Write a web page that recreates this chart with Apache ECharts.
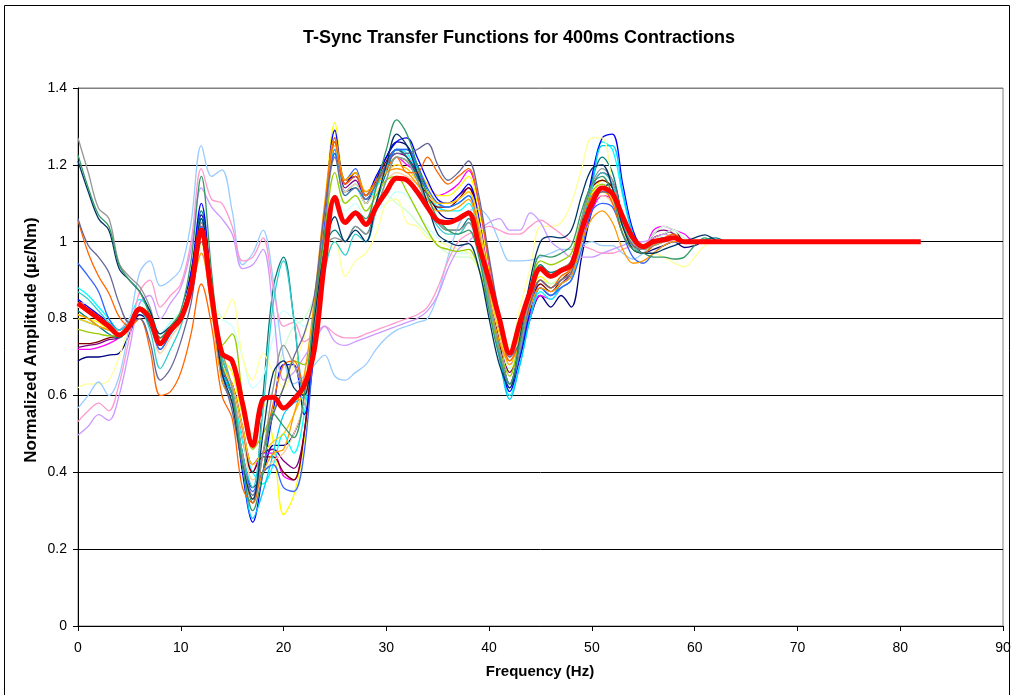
<!DOCTYPE html>
<html><head><meta charset="utf-8">
<script src="https://cdn.jsdelivr.net/npm/echarts@6/dist/echarts.min.js"></script>
<style>html,body{margin:0;padding:0;background:#fff}#c{width:1014px;height:695px}</style>
</head><body><div id="c"></div>
<script>
const titleText = 'T-Sync Transfer Functions for 400ms Contractions';
const xName = 'Frequency (Hz)';
const yName = 'Normalized Amplitude (\u00b5\u03b5/Nm)';
const xTicks = [0,10,20,30,40,50,60,70,80,90];
const yTicks = [0,0.2,0.4,0.6,0.8,1,1.2,1.4];

const freq = [0,1,2,3,4,5,6,7,8,9,10,11,12,13,14,15,16,17,18,19,20,21,22,23,24,25,26,27,28,29,30,31,32,33,34,35,36,37,38,39,40,41,42,43,44,45,46,47,48,49,50,51,52,53,54,55,56,57,58,59,60,61,62,63];
const freqAvg = [0,1,2,3,4,5,6,7,8,9,10,11,12,13,14,15,16,17,18,19,20,21,22,23,24,25,26,27,28,29,30,31,32,33,34,35,36,37,38,39,40,41,42,43,44,45,46,47,48,49,50,51,52,53,54,55,56,57,58,59,60,61,62,63,64,65,66,67,68,69,70,71,72,73,74,75,76,77,78,79,80,81,82];

const s01 = [0.69,0.70,0.70,0.705,0.71,0.76,0.81,0.79,0.75,0.78, 0.82,0.92,1.07,0.88,0.66,0.60,0.45,0.36,0.40,0.47, 0.47,0.50,0.58,0.80,1.05,1.23,1.13,1.14,1.10,1.16, 1.22,1.26,1.25,1.20,1.13,1.08,1.06,1.06,1.08,1.00, 0.85,0.72,0.63,0.70,0.80,0.86,0.83,0.86,0.83,0.96, 1.08,1.14,1.15,1.06,1.00,0.97,0.98,0.99,1.00,0.985, 0.99,1.00,1.00,1.00];
const s02 = [0.72,0.72,0.725,0.735,0.75,0.78,0.83,0.80,0.74,0.77, 0.80,0.88,1.02,0.84,0.66,0.62,0.50,0.40,0.45,0.45, 0.39,0.38,0.50,0.75,1.02,1.24,1.15,1.17,1.12,1.15, 1.19,1.22,1.20,1.18,1.15,1.12,1.13,1.15,1.185,1.10, 0.93,0.78,0.68,0.72,0.81,0.86,0.85,0.88,0.90,1.00, 1.08,1.12,1.11,1.05,1.01,0.98,1.03,1.04,1.03,1.02, 1.00,1.00,1.00,1.00];
const s03 = [0.81,0.80,0.79,0.77,0.76,0.79,0.83,0.81,0.75,0.78, 0.81,0.89,1.00,0.85,0.70,0.66,0.55,0.50,0.58,0.48, 0.29,0.34,0.48,0.78,1.08,1.31,1.16,1.18,1.13,1.16, 1.19,1.22,1.21,1.19,1.15,1.12,1.12,1.14,1.17,1.08, 0.92,0.78,0.66,0.75,0.86,0.91,0.89,0.91,0.93,1.03, 1.12,1.16,1.14,1.06,1.00,0.98,1.00,1.02,1.01,1.00, 1.00,1.00,1.00,1.00];
const s04 = [0.88,0.86,0.83,0.80,0.77,0.80,0.85,0.82,0.76,0.79, 0.82,0.90,1.06,0.86,0.66,0.62,0.48,0.40,0.37,0.42, 0.50,0.45,0.55,0.78,1.05,1.22,1.12,1.14,1.10,1.14, 1.19,1.24,1.23,1.18,1.12,1.09,1.08,1.08,1.10,1.02, 0.85,0.70,0.60,0.68,0.80,0.87,0.85,0.88,0.90,1.00, 1.15,1.26,1.24,1.12,1.02,0.99,1.00,1.01,1.02,1.00, 1.00,1.00,1.00,1.00];
const s05 = [0.725,0.73,0.735,0.745,0.75,0.78,0.83,0.80,0.73,0.77, 0.80,0.88,1.05,0.86,0.66,0.63,0.52,0.42,0.45,0.46, 0.43,0.41,0.50,0.76,1.03,1.26,1.14,1.16,1.11,1.15, 1.20,1.23,1.22,1.18,1.13,1.10,1.10,1.12,1.14,1.06, 0.90,0.77,0.66,0.72,0.83,0.88,0.86,0.89,0.92,1.04, 1.14,1.18,1.16,1.06,1.00,0.98,1.02,1.03,1.02,1.00, 1.00,1.00,1.00,1.00];
const s06 = [0.735,0.735,0.74,0.75,0.755,0.78,0.82,0.81,0.75,0.78, 0.81,0.89,1.04,0.85,0.67,0.63,0.50,0.40,0.44,0.44, 0.40,0.38,0.50,0.78,1.05,1.27,1.15,1.18,1.12,1.16, 1.21,1.24,1.22,1.17,1.12,1.09,1.09,1.11,1.14,1.05, 0.88,0.74,0.63,0.72,0.83,0.89,0.87,0.90,0.93,1.05, 1.14,1.16,1.14,1.05,0.99,0.98,1.01,1.02,1.03,1.00, 1.00,1.00,1.00,1.00];
const s07 = [0.82,0.80,0.78,0.76,0.75,0.78,0.82,0.78,0.72,0.76, 0.80,0.90,1.08,0.88,0.70,0.62,0.42,0.32,0.60,0.88, 0.96,0.80,0.60,0.75,0.98,1.03,1.00,1.04,1.02,1.10, 1.18,1.24,1.22,1.17,1.10,1.05,1.03,1.03,1.06,0.98, 0.84,0.72,0.63,0.72,0.86,0.94,0.92,0.93,0.95,1.06, 1.16,1.22,1.18,1.06,0.99,0.97,0.99,1.00,1.01,1.00, 1.00,1.005,1.01,1.00];
const s08 = [0.85,0.83,0.81,0.79,0.77,0.80,0.83,0.80,0.75,0.78, 0.81,0.92,1.10,0.88,0.68,0.60,0.40,0.27,0.40,0.56, 0.68,0.68,0.55,0.72,1.05,1.29,1.16,1.17,1.12,1.17, 1.22,1.26,1.27,1.22,1.16,1.11,1.10,1.12,1.15,1.06, 0.88,0.72,0.61,0.70,0.82,0.90,0.88,0.90,0.92,1.02, 1.17,1.27,1.28,1.15,1.03,0.99,1.00,1.01,1.01,1.00, 1.00,1.00,1.00,1.00];
const s09 = [0.80,0.79,0.78,0.77,0.76,0.79,0.83,0.80,0.75,0.78, 0.81,0.90,1.06,0.86,0.66,0.60,0.42,0.28,0.35,0.45, 0.55,0.58,0.60,0.80,1.05,1.24,1.13,1.15,1.11,1.15, 1.20,1.24,1.24,1.19,1.13,1.10,1.09,1.10,1.12,1.03, 0.86,0.70,0.59,0.68,0.80,0.88,0.86,0.89,0.91,1.01, 1.14,1.25,1.25,1.13,1.02,0.98,0.99,1.00,1.01,1.00, 1.00,1.00,1.00,1.00];
const s10 = [0.84,0.84,0.82,0.79,0.77,0.80,0.84,0.81,0.76,0.79, 0.82,0.90,1.02,0.88,0.80,0.78,0.70,0.62,0.65,0.75, 0.82,0.80,0.78,0.85,1.00,1.10,1.08,1.10,1.06,1.08, 1.10,1.13,1.12,1.08,1.04,1.01,0.99,0.97,0.97,0.93, 0.86,0.76,0.67,0.74,0.84,0.90,0.89,0.91,0.93,1.02, 1.10,1.13,1.12,1.05,1.00,0.98,1.00,1.02,1.03,1.01, 1.00,1.00,1.00,1.00];
const s11 = [0.83,0.82,0.80,0.78,0.76,0.79,0.83,0.80,0.75,0.78, 0.81,0.89,1.03,0.86,0.72,0.68,0.58,0.50,0.55,0.62, 0.72,0.78,0.80,0.86,1.00,1.12,1.10,1.12,1.08,1.10, 1.12,1.10,1.08,1.05,1.02,0.99,0.97,0.96,0.96,0.93, 0.86,0.76,0.67,0.74,0.84,0.90,0.89,0.91,0.93,1.02, 1.10,1.13,1.11,1.04,1.00,0.99,1.02,1.04,1.03,1.01, 1.00,1.00,1.00,1.00];
const s12 = [0.62,0.63,0.63,0.64,0.70,0.78,0.82,0.80,0.74,0.78, 0.82,0.88,0.99,0.86,0.80,0.85,0.70,0.64,0.71,0.66, 0.62,0.68,0.75,0.85,0.95,1.00,0.91,0.95,0.97,1.02, 1.10,1.11,1.05,1.04,1.01,1.00,0.99,0.98,0.97,0.93, 0.86,0.78,0.73,0.83,0.93,1.04,1.04,1.05,1.10,1.19, 1.27,1.27,1.15,1.03,0.98,0.97,0.97,0.96,0.945,0.935, 0.96,0.99,1.00,1.00];
const s13 = [0.567,0.60,0.635,0.60,0.65,0.78,0.92,0.95,0.885,0.90, 0.93,1.05,1.25,1.17,1.187,1.08,0.94,0.97,1.03,0.90, 0.70,0.63,0.65,0.68,0.705,0.65,0.64,0.66,0.68,0.72, 0.75,0.77,0.78,0.79,0.80,0.86,0.96,1.04,1.08,1.085, 1.06,1.00,0.95,0.95,0.952,0.96,0.97,0.98,0.98,0.99, 1.00,0.99,0.99,0.97,0.955,0.97,1.00,1.00,1.00,1.00, 1.00,1.00,1.00,1.00];
const s14 = [0.532,0.56,0.58,0.56,0.63,0.75,0.87,0.90,0.83,0.86, 0.89,1.00,1.19,1.11,1.10,1.04,0.95,0.96,1.01,0.88, 0.78,0.79,0.74,0.76,0.78,0.76,0.75,0.75,0.76,0.77, 0.78,0.79,0.80,0.81,0.83,0.88,0.95,1.00,1.02,1.03, 1.04,1.03,1.02,1.02,1.04,1.056,1.04,1.02,1.00,0.99, 0.98,0.97,0.97,0.98,0.99,1.00,1.00,1.00,1.00,1.00, 1.00,1.00,1.00,1.00];
const s15 = [0.497,0.52,0.55,0.535,0.60,0.72,0.84,0.86,0.80,0.84, 0.88,0.98,1.14,1.09,1.06,1.02,0.93,0.94,0.98,0.82, 0.64,0.66,0.70,0.74,0.78,0.74,0.73,0.74,0.75,0.76, 0.77,0.78,0.79,0.80,0.82,0.86,0.93,0.98,1.00,1.03, 1.05,1.06,1.03,1.03,1.075,1.05,1.00,0.98,0.96,0.96, 0.96,0.97,0.98,0.99,1.00,1.00,1.01,1.02,1.01,1.00, 1.00,1.00,1.00,1.00];
const s16 = [0.83,0.82,0.80,0.78,0.77,0.79,0.82,0.79,0.71,0.75, 0.79,0.87,1.00,0.84,0.68,0.62,0.50,0.38,0.40,0.43, 0.45,0.50,0.58,0.80,1.05,1.22,1.13,1.15,1.10,1.13, 1.16,1.18,1.17,1.15,1.12,1.10,1.10,1.11,1.13,1.05, 0.90,0.78,0.70,0.76,0.85,0.90,0.88,0.90,0.92,1.02, 1.10,1.12,1.10,1.04,0.99,0.97,0.99,1.00,1.01,1.00, 1.00,1.00,1.00,1.00];
const s17 = [0.944,0.91,0.87,0.80,0.77,0.79,0.82,0.79,0.72,0.76, 0.80,0.88,1.04,0.85,0.64,0.58,0.45,0.35,0.40,0.42, 0.36,0.35,0.45,0.75,1.05,1.23,1.16,1.19,1.12,1.15, 1.20,1.24,1.24,1.20,1.14,1.10,1.09,1.10,1.12,1.03, 0.86,0.72,0.62,0.71,0.83,0.88,0.86,0.88,0.90,0.98, 1.08,1.10,1.09,1.02,0.96,0.944,0.97,0.99,1.00,1.00, 1.00,1.00,1.00,1.00];
const s18 = [0.87,0.85,0.82,0.79,0.77,0.79,0.82,0.77,0.67,0.72, 0.78,0.88,1.06,0.87,0.70,0.62,0.45,0.36,0.56,0.84, 0.95,0.80,0.62,0.72,0.92,1.00,0.965,1.02,1.00,1.08, 1.16,1.22,1.21,1.16,1.09,1.04,1.02,1.02,1.05,0.97, 0.84,0.72,0.63,0.72,0.85,0.93,0.91,0.92,0.94,1.04, 1.14,1.18,1.15,1.05,0.99,0.97,0.99,1.00,1.01,1.00, 1.00,1.00,1.00,1.00];
const s19 = [0.772,0.765,0.76,0.755,0.755,0.78,0.82,0.80,0.74,0.77, 0.80,0.88,1.02,0.86,0.73,0.76,0.60,0.46,0.50,0.56, 0.62,0.69,0.68,0.80,1.02,1.18,1.10,1.12,1.08,1.12, 1.16,1.17,1.13,1.08,1.03,0.99,0.98,0.975,0.98,0.93, 0.82,0.72,0.65,0.76,0.88,0.95,0.94,0.95,0.97,1.06, 1.13,1.15,1.12,1.04,0.99,0.98,0.99,1.00,1.01,1.00, 1.00,1.00,1.00,1.00];
const s20 = [0.80,0.79,0.78,0.77,0.76,0.79,0.83,0.81,0.75,0.78, 0.81,0.89,1.00,0.84,0.68,0.63,0.52,0.42,0.45,0.48, 0.50,0.55,0.62,0.82,1.08,1.25,1.16,1.18,1.12,1.15, 1.18,1.20,1.19,1.16,1.13,1.10,1.10,1.11,1.13,1.04, 0.88,0.76,0.68,0.75,0.85,0.90,0.88,0.90,0.92,1.02, 1.10,1.13,1.11,1.04,0.99,0.98,0.99,1.00,1.01,1.00, 1.00,1.00,1.00,1.00];
const s21 = [0.81,0.80,0.78,0.77,0.76,0.79,0.83,0.80,0.74,0.77, 0.80,0.87,0.97,0.82,0.64,0.58,0.42,0.33,0.40,0.45, 0.46,0.55,0.65,0.85,1.10,1.27,1.16,1.18,1.13,1.15, 1.18,1.19,1.18,1.15,1.11,1.08,1.08,1.09,1.11,1.02, 0.86,0.74,0.69,0.74,0.83,0.88,0.87,0.89,0.91,1.00, 1.06,1.08,1.05,0.98,0.944,0.95,0.97,0.99,1.00,1.00, 1.00,1.00,1.00,1.00];
const s22 = [1.056,0.97,0.91,0.866,0.805,0.78,0.80,0.72,0.60,0.61, 0.66,0.76,0.89,0.78,0.60,0.54,0.36,0.32,0.45,0.58, 0.68,0.69,0.62,0.82,1.08,1.26,1.15,1.17,1.12,1.16, 1.19,1.22,1.18,1.18,1.22,1.18,1.15,1.17,1.19,1.10, 0.95,0.80,0.69,0.74,0.84,0.90,0.88,0.91,0.93,1.03, 1.12,1.14,1.10,1.02,0.98,0.97,0.99,1.01,1.02,1.00, 1.00,1.00,1.00,1.00];
const s23 = [1.06,0.99,0.96,0.92,0.84,0.79,0.80,0.74,0.64,0.67, 0.74,0.84,1.00,0.84,0.66,0.56,0.42,0.34,0.45,0.55, 0.62,0.70,0.76,0.86,1.08,1.22,1.12,1.14,1.11,1.15, 1.20,1.23,1.23,1.24,1.256,1.20,1.16,1.18,1.21,1.12, 0.96,0.81,0.70,0.74,0.84,0.90,0.88,0.90,0.92,1.02, 1.10,1.13,1.12,1.04,0.99,0.98,1.00,1.01,1.01,1.00, 1.00,1.00,1.00,1.00];
const s24 = [1.27,1.18,1.087,1.061,0.944,0.909,0.883,0.83,0.75,0.77, 0.80,0.88,1.05,0.88,0.72,0.62,0.44,0.33,0.45,0.62, 0.73,0.68,0.62,0.78,0.98,1.01,1.00,1.04,1.02,1.08, 1.16,1.22,1.21,1.16,1.10,1.05,1.03,1.03,1.05,0.98, 0.85,0.72,0.63,0.72,0.86,0.93,0.91,0.93,0.95,1.06, 1.15,1.19,1.16,1.06,1.00,0.98,0.99,1.00,1.01,1.00, 1.00,1.00,1.00,1.00];
const s25 = [1.21,1.13,1.06,1.03,0.93,0.90,0.87,0.82,0.76,0.78, 0.81,0.90,1.06,0.86,0.66,0.58,0.42,0.33,0.50,0.66, 0.69,0.62,0.60,0.80,0.98,1.065,1.00,1.03,1.00,1.10, 1.20,1.28,1.25,1.18,1.10,1.02,1.00,0.99,0.995,0.93, 0.80,0.68,0.62,0.75,0.90,1.00,1.013,1.01,1.03,1.12, 1.19,1.20,1.14,1.04,0.98,0.97,0.97,0.98,0.99,1.00, 1.01,1.018,1.005,1.00];
const s26 = [1.226,1.14,1.07,1.04,0.94,0.90,0.87,0.81,0.75,0.78, 0.82,0.95,1.17,0.92,0.68,0.60,0.42,0.30,0.40,0.553, 0.52,0.49,0.60,0.82,1.02,1.12,1.05,1.08,1.06,1.14, 1.24,1.317,1.28,1.20,1.12,1.06,1.03,1.02,1.03,0.96, 0.82,0.70,0.63,0.74,0.88,0.965,0.96,0.97,0.99,1.08, 1.15,1.17,1.12,1.02,0.98,0.97,0.96,0.96,0.955,0.96, 0.99,1.01,1.00,1.00];
const avg = [0.84,0.82,0.80,0.78,0.757,0.78,0.825,0.80,0.735,0.77, 0.80,0.88,1.03,0.86,0.71,0.69,0.58,0.47,0.59,0.595, 0.567,0.59,0.625,0.72,0.95,1.115,1.05,1.075,1.045,1.09, 1.13,1.165,1.16,1.13,1.09,1.055,1.05,1.06,1.075,0.99, 0.90,0.80,0.71,0.79,0.87,0.93,0.91,0.925,0.94,1.03, 1.10,1.14,1.125,1.065,1.01,0.987,1.0,1.005,1.01,1.0, 1.0,1.0,1.0,1.0,1.0,1.0,1.0,1.0,1.0,1.0, 1.0,1.0,1.0,1.0,1.0,1.0,1.0,1.0,1.0,1.0, 1.0,1.0,1.0];

const thinSeries = [s01,s02,s03,s04,s05,s06,s07,s08,s09,s10,s11,s12,s13,s14,s15,s16,s17,s18,s19,s20,s21,s22,s23,s24,s25,s26];
const thinColors = ['#000080','#FF00FF','#FFFF00','#00FFFF','#800080','#800000','#008080','#0000FF','#00CCFF','#CCFFFF','#CCFFCC','#FFFF99','#99CCFF','#FF99CC','#CC99FF','#FFCC99','#3366FF','#33CCCC','#99CC00','#FFCC00','#FF9900','#FF6600','#666699','#969696','#003366','#339966'];

const font = "'Liberation Sans', Arial, sans-serif";
const chart = echarts.init(document.getElementById('c'), null, {renderer: 'canvas'});

const series = thinSeries.map((vals, k) => ({
  type: 'line',
  data: freq.map((f, i) => [f, vals[i]]),
  showSymbol: false,
  smooth: 0.35,
  silent: true,
  z: 2,
  lineStyle: {width: 1.3, color: thinColors[k]},
  itemStyle: {color: thinColors[k]}
}));
series.push({
  type: 'line',
  data: freqAvg.map((f, i) => [f, avg[i]]),
  showSymbol: false,
  smooth: 0.35,
  silent: true,
  z: 3,
  lineStyle: {width: 5, color: '#FF0000'},
  itemStyle: {color: '#FF0000'}
});

chart.setOption({
  animation: false,
  backgroundColor: '#ffffff',
  grid: {left: 78, right: 11, top: 88, bottom: 69, show: true, borderColor: '#808080', borderWidth: 1, backgroundColor: 'transparent'},
  xAxis: {
    type: 'value', min: xTicks[0], max: xTicks[xTicks.length - 1], interval: 10,
    axisLine: {show: true, onZero: false, lineStyle: {color: '#000', width: 1}},
    axisTick: {show: true, inside: false, length: 5, lineStyle: {color: '#000'}},
    axisLabel: {color: '#000', fontSize: 14, fontFamily: font, margin: 15},
    splitLine: {show: false}
  },
  yAxis: {
    type: 'value', min: yTicks[0], max: yTicks[yTicks.length - 1], interval: 0.2,
    axisLine: {show: true, lineStyle: {color: '#000', width: 1}},
    axisTick: {show: true, inside: false, length: 5, lineStyle: {color: '#000'}},
    axisLabel: {color: '#000', fontSize: 14, fontFamily: font, margin: 11},
    splitLine: {show: true, lineStyle: {color: ['#000','#000','#000','#000','#000','#000','#000','#808080'], width: 1}}
  },
  graphic: [
    {type: 'rect', shape: {x: 4.5, y: 5.5, width: 1005, height: 700}, style: {fill: 'none', stroke: '#000', lineWidth: 1}, silent: true, z: 0},
    {type: 'text', x: 519, y: 38, style: {text: titleText, font: 'bold 18px ' + font, fill: '#000', textAlign: 'center', textVerticalAlign: 'middle'}},
    {type: 'text', x: 540, y: 672, style: {text: xName, font: 'bold 15px ' + font, fill: '#000', textAlign: 'center', textVerticalAlign: 'middle'}},
    {type: 'text', x: 31, y: 340, rotation: Math.PI / 2, style: {text: yName, font: 'bold 17px ' + font, fill: '#000', textAlign: 'center', textVerticalAlign: 'middle'}}
  ],
  series: series
});
</script>
</body></html>
